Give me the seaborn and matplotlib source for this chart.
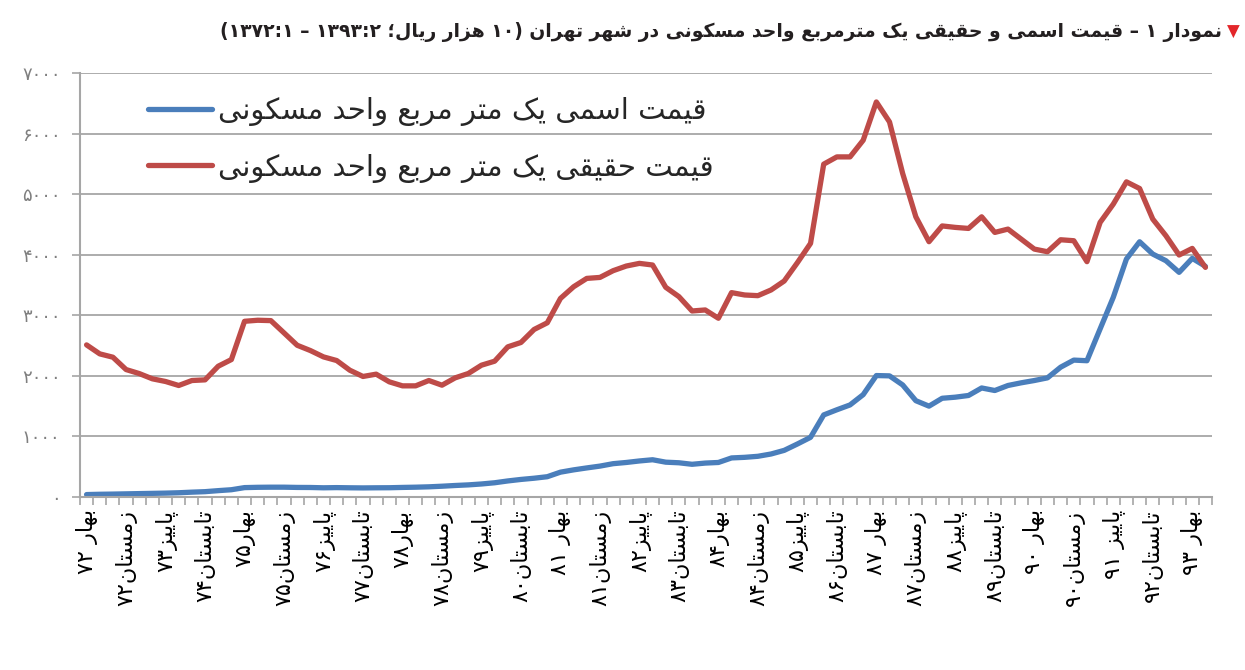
import matplotlib
matplotlib.use("Agg")
import matplotlib.pyplot as plt
from matplotlib.lines import Line2D
import pandas as pd
import seaborn as sns

# quarterly series, spring 1372 .. summer 1393 (10 thousand rials per m2)
nominal = [40, 45, 48, 52, 56, 60, 64, 70, 80, 88,
           105, 120, 155, 160, 162, 162, 158, 157, 152, 155,
           152, 150, 152, 153, 158, 162, 168, 178, 190, 200,
           215, 235, 265, 290, 310, 335, 410, 448, 480, 510,
           550, 570, 595, 615, 575, 565, 540, 560, 570, 645,
           655, 672, 710, 770, 875, 985, 1355, 1440, 1520, 1690,
           2005, 2000, 1850, 1590, 1500, 1630, 1648, 1676, 1800, 1758,
           1841, 1885, 1923, 1967, 2143, 2260, 2250, 2775, 3297, 3929,
           4214, 4011, 3901, 3709, 3940, 3808]
real = [2511, 2363, 2308, 2104, 2038, 1951, 1907, 1841, 1923, 1934,
        2159, 2269, 2901, 2918, 2912, 2709, 2505, 2418, 2313, 2253,
        2093, 1990, 2028, 1901, 1835, 1835, 1923, 1846, 1967, 2039,
        2176, 2242, 2479, 2551, 2766, 2876, 3278, 3471, 3609, 3625,
        3736, 3813, 3857, 3830, 3462, 3308, 3071, 3088, 2951, 3374,
        3335, 3324, 3418, 3566, 3868, 4187, 5495, 5615, 5615, 5890,
        6522, 6192, 5341, 4626, 4215, 4475, 4451, 4434, 4626, 4368,
        4423, 4258, 4093, 4049, 4247, 4231, 3885, 4533, 4835, 5203,
        5093, 4588, 4313, 3995, 4104, 3791]

tick_labels = ["بهار ۷۲", "زمستان۷۲", "پاییز۷۳", "تابستان۷۴", "بهار۷۵",
               "زمستان۷۵", "پاییز۷۶", "تابستان۷۷", "بهار۷۸", "زمستان۷۸",
               "پاییز۷۹", "تابستان۸۰", "بهار ۸۱", "زمستان۸۱", "پاییز۸۲",
               "تابستان۸۳", "بهار۸۴", "زمستان۸۴", "پاییز۸۵", "تابستان۸۶",
               "بهار ۸۷", "زمستان۸۷", "پاییز۸۸", "تابستان۸۹", "بهار ۹۰",
               "زمستان۹۰", "پاییز ۹۱", "تابستان۹۲", "بهار ۹۳"]
series_names = ["قیمت اسمی یک متر مربع واحد مسکونی",
                "قیمت حقیقی یک متر مربع واحد مسکونی"]
title = ("نمودار ۱ – قیمت اسمی و حقیقی یک مترمربع واحد مسکونی در شهر تهران "
         "(۱۰ هزار ریال؛ ۱۳۹۳:۲ – ۱۳۷۲:۱)")

BLUE = "#4a7ebb"
RED = "#be4b48"
GRAY = "#a6a6a6"

# matplotlib has no arabic shaping / bidi, so do a small version of it here
FORMS = {
    'ا': ('\uFE8D', '\uFE8E', None, None),
    'ب': ('\uFE8F', '\uFE90', '\uFE91', '\uFE92'),
    'پ': ('\uFB56', '\uFB57', '\uFB58', '\uFB59'),
    'ت': ('\uFE95', '\uFE96', '\uFE97', '\uFE98'),
    'ح': ('\uFEA1', '\uFEA2', '\uFEA3', '\uFEA4'),
    'د': ('\uFEA9', '\uFEAA', None, None),
    'ر': ('\uFEAD', '\uFEAE', None, None),
    'ز': ('\uFEAF', '\uFEB0', None, None),
    'س': ('\uFEB1', '\uFEB2', '\uFEB3', '\uFEB4'),
    'ش': ('\uFEB5', '\uFEB6', '\uFEB7', '\uFEB8'),
    'ع': ('\uFEC9', '\uFECA', '\uFECB', '\uFECC'),
    'ق': ('\uFED5', '\uFED6', '\uFED7', '\uFED8'),
    'ک': ('\uFB8E', '\uFB8F', '\uFB90', '\uFB91'),
    'ل': ('\uFEDD', '\uFEDE', '\uFEDF', '\uFEE0'),
    'م': ('\uFEE1', '\uFEE2', '\uFEE3', '\uFEE4'),
    'ن': ('\uFEE5', '\uFEE6', '\uFEE7', '\uFEE8'),
    'ه': ('\uFEE9', '\uFEEA', '\uFEEB', '\uFEEC'),
    'و': ('\uFEED', '\uFEEE', None, None),
    'ی': ('\uFBFC', '\uFBFD', '\uFBFE', '\uFBFF'),
}
FA_DIGITS = "۰۱۲۳۴۵۶۷۸۹"
MIRROR = {'(': ')', ')': '('}


def fa(text):
    chars = list(text)
    shaped = []
    for k, c in enumerate(chars):
        if c not in FORMS:
            shaped.append(c)
            continue
        prev = chars[k - 1] if k > 0 else ''
        nxt = chars[k + 1] if k + 1 < len(chars) else ''
        join_prev = prev in FORMS and FORMS[prev][2] is not None
        join_next = FORMS[c][2] is not None and nxt in FORMS
        iso, fin, ini, med = FORMS[c]
        if join_prev and join_next:
            shaped.append(med)
        elif join_prev:
            shaped.append(fin)
        elif join_next:
            shaped.append(ini)
        else:
            shaped.append(iso)
    # numbers keep their left-to-right order inside the right-to-left line
    tokens = []
    k = 0
    while k < len(shaped):
        if shaped[k] in FA_DIGITS:
            j = k
            while j < len(shaped) and (shaped[j] in FA_DIGITS or (
                    shaped[j] == ':' and j + 1 < len(shaped) and shaped[j + 1] in FA_DIGITS)):
                j += 1
            tokens.append(''.join(shaped[k:j]))
            k = j
        else:
            tokens.append(MIRROR.get(shaped[k], shaped[k]))
            k += 1
    return ''.join(reversed(tokens))


def fa_num(v):
    return ''.join(FA_DIGITS[int(c)] for c in str(v))


sns.set_theme(style="white")
plt.rcParams['font.family'] = ['DejaVu Sans']

n = len(nominal)
df = pd.DataFrame({
    'quarter': list(range(n)) * 2,
    'price': nominal + real,
    'series': [series_names[0]] * n + [series_names[1]] * n,
})

fig = plt.figure(figsize=(12.45, 6.70), dpi=100)
ax = fig.add_axes([80 / 1245, 1 - 497 / 670, (1212 - 80) / 1245, (497 - 73) / 670])

sns.lineplot(data=df, x='quarter', y='price', hue='series',
             palette=[BLUE, RED], linewidth=3.8, ax=ax, legend=False)
for line in ax.lines:
    line.set_solid_capstyle('round')
    line.set_solid_joinstyle('round')

ax.set_xlim(-0.5, n - 0.5)
ax.set_ylim(0, 7000)
ax.set_xlabel('')
ax.set_ylabel('')

ax.set_xticks(range(0, n, 3))
ax.set_xticklabels([fa(t) for t in tick_labels], rotation=90, fontsize=16, color='black')
ax.set_xticks([i - 0.5 for i in range(n + 1)], minor=True)
ax.tick_params(axis='x', which='major', length=0, pad=9)
ax.tick_params(axis='x', which='minor', length=6, width=1.2, color=GRAY, direction='out', bottom=True)

yt = list(range(0, 7001, 1000))
ax.set_yticks(yt)
ax.set_yticklabels([fa_num(v) for v in yt], fontsize=13, color='#7f7f7f')
ax.tick_params(axis='y', length=6, width=1.2, color=GRAY, direction='out', left=True, pad=8)

ax.yaxis.grid(True, color=GRAY, linewidth=1.3)
ax.set_axisbelow(True)
for side in ['top', 'right']:
    ax.spines[side].set_visible(False)
for side in ['left', 'bottom']:
    ax.spines[side].set_color(GRAY)
    ax.spines[side].set_linewidth(1.5)

handles = [Line2D([], [], color=BLUE, linewidth=3.8, solid_capstyle='round'),
           Line2D([], [], color=RED, linewidth=3.8, solid_capstyle='round')]
ax.legend(handles, [fa(s) for s in series_names], loc='upper left',
          bbox_to_anchor=(148 / 1245, 1 - 97 / 670), bbox_transform=fig.transFigure,
          frameon=False, fontsize=21, handlelength=2.2, handletextpad=0.2,
          labelspacing=0.95, borderpad=0, borderaxespad=0)

fig.text(1222 / 1245, 1 - 32 / 670, fa(title), ha='right', va='center',
         fontsize=13.5, fontweight='bold', color='#231f20')
fig.text(1240 / 1245, 1 - 32 / 670, '▼', ha='right', va='center',
         fontsize=12, color='#e3262a')

fig.savefig('out.png', dpi=100)
